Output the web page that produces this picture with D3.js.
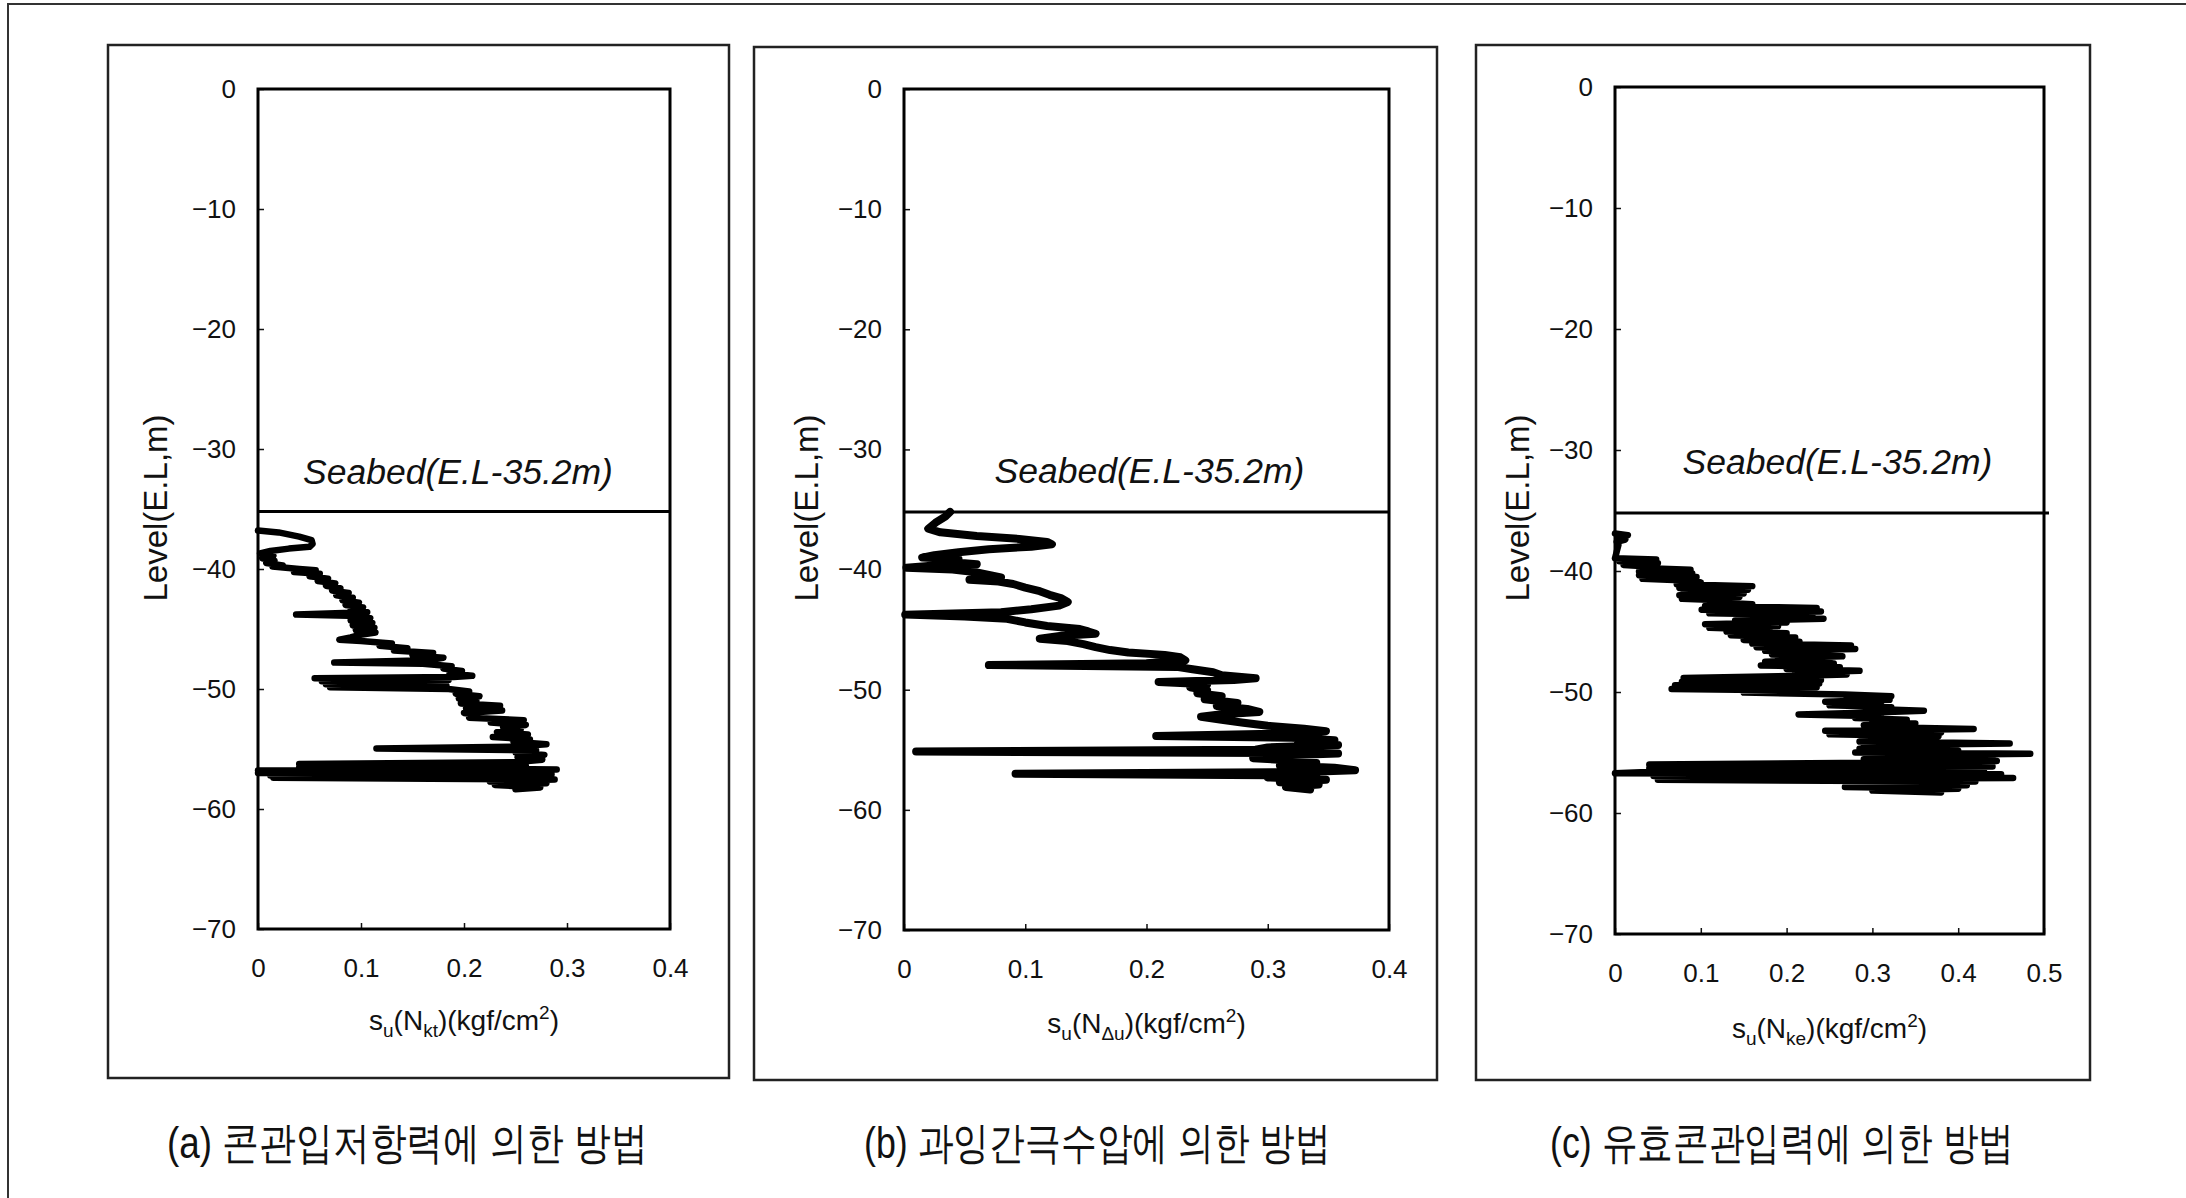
<!DOCTYPE html>
<meta charset="utf-8">
<script src="https://d3js.org/d3.v7.min.js"></script>
<style>
  body { margin: 0; background: #fff; }
  svg text { font-family: "Liberation Sans", Arial, sans-serif; fill: #111; }
</style>
<div id="chart"></div>

<script>
// axis values
const levelTicks = [0, -10, -20, -30, -40, -50, -60, -70];
const suTicksAB = [0, 0.1, 0.2, 0.3, 0.4];
const suTicksC = [0, 0.1, 0.2, 0.3, 0.4, 0.5];
const seabedLevel = -35.2;
const seabedText = "Seabed(E.L-35.2m)";
const levelText = "Level(E.L,m)";
const xSubs = ["kt", "\u0394u", "ke"];
const captions = ["(a) 콘관입저항력에 의한 방법", "(b) 과잉간극수압에 의한 방법", "(c) 유효콘관입력에 의한 방법"];

// profiles: [level (m), su (kgf/cm2)]
const profileA = [
  [-36.8, 0.000], [-36.95, 0.020], [-37.3, 0.040], [-37.6, 0.052], [-37.9, 0.053], [-38.15, 0.050],
  [-38.3, 0.030], [-38.5, 0.012], [-38.7, 0.002], [-38.9, 0.015], [-39.1, 0.004], [-39.3, 0.016],
  [-39.5, 0.008], [-39.7, 0.024], [-39.8, 0.014], [-40.0, 0.040], [-40.1, 0.056], [-40.25, 0.035],
  [-40.4, 0.060], [-40.6, 0.050], [-40.8, 0.068], [-41.0, 0.058], [-41.2, 0.075], [-41.4, 0.066],
  [-41.6, 0.080], [-41.8, 0.072], [-42.0, 0.088], [-42.2, 0.076], [-42.4, 0.092], [-42.6, 0.082],
  [-42.8, 0.098], [-43.0, 0.085], [-43.2, 0.102], [-43.4, 0.090], [-43.6, 0.106], [-43.8, 0.037],
  [-43.9, 0.088], [-44.1, 0.109], [-44.3, 0.090], [-44.5, 0.111], [-44.7, 0.092], [-44.9, 0.113],
  [-45.1, 0.095], [-45.3, 0.114], [-45.5, 0.098], [-45.7, 0.090], [-45.9, 0.079], [-46.0, 0.100],
  [-46.2, 0.130], [-46.4, 0.118], [-46.6, 0.145], [-46.8, 0.132], [-47.0, 0.170], [-47.2, 0.150],
  [-47.4, 0.180], [-47.6, 0.165], [-47.8, 0.074], [-47.9, 0.160], [-48.1, 0.188], [-48.3, 0.180],
  [-48.5, 0.198], [-48.7, 0.186], [-48.9, 0.208], [-49.0, 0.190], [-49.1, 0.055], [-49.25, 0.185],
  [-49.35, 0.062], [-49.5, 0.180], [-49.6, 0.066], [-49.75, 0.183], [-49.85, 0.070], [-50.0, 0.185],
  [-50.2, 0.205], [-50.4, 0.192], [-50.6, 0.215], [-50.8, 0.195], [-51.0, 0.212], [-51.2, 0.197],
  [-51.4, 0.235], [-51.6, 0.202], [-51.8, 0.237], [-52.0, 0.200], [-52.2, 0.215], [-52.4, 0.205],
  [-52.6, 0.258], [-52.8, 0.226], [-53.0, 0.260], [-53.2, 0.238], [-53.4, 0.255], [-53.6, 0.232],
  [-53.8, 0.262], [-54.0, 0.228], [-54.2, 0.264], [-54.4, 0.248], [-54.6, 0.280], [-54.8, 0.250],
  [-54.95, 0.115], [-55.1, 0.270], [-55.3, 0.250], [-55.5, 0.278], [-55.7, 0.252], [-55.9, 0.276],
  [-56.1, 0.248], [-56.25, 0.040], [-56.4, 0.260], [-56.55, 0.040], [-56.7, 0.290], [-56.8, 0.000],
  [-56.9, 0.270], [-57.0, 0.000], [-57.1, 0.285], [-57.2, 0.012], [-57.3, 0.260], [-57.4, 0.015],
  [-57.55, 0.288], [-57.7, 0.225], [-57.85, 0.280], [-58.0, 0.230], [-58.2, 0.274], [-58.35, 0.250]
];

const profileB = [
  [-35.2, 0.038], [-35.6, 0.034], [-36.1, 0.026], [-36.6, 0.020], [-36.9, 0.030], [-37.2, 0.060],
  [-37.45, 0.095], [-37.7, 0.118], [-37.9, 0.122], [-38.1, 0.105], [-38.3, 0.070], [-38.55, 0.045],
  [-38.8, 0.025], [-39.0, 0.015], [-39.15, 0.045], [-39.35, 0.035], [-39.55, 0.060], [-39.7, 0.020],
  [-39.85, 0.002], [-40.0, 0.040], [-40.2, 0.058], [-40.45, 0.070], [-40.65, 0.080], [-40.85, 0.054],
  [-41.0, 0.078], [-41.2, 0.090], [-41.5, 0.100], [-41.8, 0.112], [-42.1, 0.120], [-42.4, 0.130],
  [-42.7, 0.135], [-43.0, 0.128], [-43.3, 0.105], [-43.55, 0.080], [-43.75, 0.001], [-43.9, 0.050],
  [-44.1, 0.085], [-44.4, 0.100], [-44.7, 0.118], [-44.95, 0.145], [-45.15, 0.152], [-45.35, 0.158],
  [-45.5, 0.130], [-45.75, 0.112], [-45.95, 0.135], [-46.2, 0.148], [-46.45, 0.158], [-46.7, 0.170],
  [-46.9, 0.185], [-47.1, 0.215], [-47.3, 0.228], [-47.55, 0.232], [-47.8, 0.200], [-47.95, 0.070],
  [-48.1, 0.225], [-48.3, 0.238], [-48.55, 0.255], [-48.8, 0.262], [-49.05, 0.290], [-49.2, 0.272],
  [-49.35, 0.210], [-49.55, 0.250], [-49.8, 0.236], [-50.05, 0.250], [-50.3, 0.242], [-50.55, 0.262],
  [-50.8, 0.248], [-51.1, 0.275], [-51.35, 0.258], [-51.6, 0.283], [-51.85, 0.293], [-52.05, 0.262],
  [-52.25, 0.245], [-52.5, 0.262], [-52.75, 0.280], [-53.0, 0.300], [-53.25, 0.330], [-53.45, 0.348],
  [-53.65, 0.310], [-53.85, 0.208], [-54.0, 0.320], [-54.2, 0.355], [-54.4, 0.325], [-54.6, 0.358],
  [-54.8, 0.300], [-55.0, 0.290], [-55.15, 0.010], [-55.3, 0.358], [-55.5, 0.300], [-55.7, 0.288],
  [-55.9, 0.320], [-56.1, 0.340], [-56.3, 0.310], [-56.5, 0.355], [-56.7, 0.372], [-56.85, 0.330],
  [-57.0, 0.092], [-57.15, 0.340], [-57.3, 0.300], [-57.5, 0.348], [-57.7, 0.310], [-57.9, 0.342],
  [-58.1, 0.315], [-58.3, 0.335]
];

const profileC = [
  [-36.9, 0.000], [-37.05, 0.015], [-37.2, 0.004], [-37.4, 0.012], [-37.6, 0.002], [-37.85, 0.004],
  [-38.95, 0.000], [-39.05, 0.048], [-39.2, 0.005], [-39.35, 0.050], [-39.5, 0.010], [-39.65, 0.045],
  [-39.75, 0.030], [-39.9, 0.088], [-40.05, 0.028], [-40.2, 0.090], [-40.35, 0.028], [-40.5, 0.095],
  [-40.65, 0.032], [-40.8, 0.090], [-40.95, 0.100], [-41.1, 0.072], [-41.25, 0.160], [-41.4, 0.075],
  [-41.55, 0.155], [-41.7, 0.080], [-41.85, 0.150], [-42.0, 0.075], [-42.15, 0.145], [-42.3, 0.078],
  [-42.45, 0.140], [-42.6, 0.120], [-42.75, 0.160], [-42.9, 0.105], [-43.05, 0.235], [-43.2, 0.101],
  [-43.35, 0.240], [-43.5, 0.110], [-43.65, 0.230], [-43.8, 0.150], [-43.95, 0.243], [-44.1, 0.140],
  [-44.25, 0.200], [-44.4, 0.105], [-44.55, 0.190], [-44.7, 0.110], [-44.85, 0.180], [-45.0, 0.130],
  [-45.15, 0.200], [-45.3, 0.135], [-45.5, 0.210], [-45.7, 0.150], [-45.85, 0.215], [-46.0, 0.160],
  [-46.15, 0.275], [-46.3, 0.165], [-46.45, 0.280], [-46.6, 0.175], [-46.75, 0.240], [-46.9, 0.183],
  [-47.05, 0.265], [-47.2, 0.190], [-47.35, 0.250], [-47.5, 0.175], [-47.65, 0.255], [-47.8, 0.170],
  [-47.95, 0.262], [-48.1, 0.200], [-48.25, 0.285], [-48.4, 0.210], [-48.55, 0.270], [-48.7, 0.190],
  [-48.85, 0.080], [-49.0, 0.240], [-49.15, 0.078], [-49.3, 0.238], [-49.45, 0.070], [-49.6, 0.235],
  [-49.75, 0.066], [-49.9, 0.230], [-50.05, 0.150], [-50.2, 0.268], [-50.35, 0.322], [-50.5, 0.270],
  [-50.65, 0.320], [-50.8, 0.245], [-50.95, 0.310], [-51.1, 0.250], [-51.25, 0.322], [-51.4, 0.300],
  [-51.55, 0.360], [-51.7, 0.300], [-51.85, 0.214], [-52.0, 0.310], [-52.15, 0.280], [-52.3, 0.340],
  [-52.45, 0.300], [-52.6, 0.350], [-52.75, 0.290], [-52.9, 0.300], [-53.05, 0.418], [-53.2, 0.245],
  [-53.35, 0.380], [-53.5, 0.250], [-53.65, 0.377], [-53.8, 0.300], [-53.95, 0.360], [-54.1, 0.285],
  [-54.25, 0.460], [-54.4, 0.290], [-54.55, 0.377], [-54.7, 0.285], [-54.85, 0.400], [-55.0, 0.280],
  [-55.1, 0.484], [-55.25, 0.300], [-55.4, 0.440], [-55.55, 0.290], [-55.7, 0.445], [-55.85, 0.300],
  [-56.0, 0.040], [-56.15, 0.440], [-56.3, 0.040], [-56.45, 0.430], [-56.6, 0.045], [-56.72, 0.000],
  [-56.8, 0.450], [-56.95, 0.045], [-57.1, 0.464], [-57.25, 0.050], [-57.4, 0.420], [-57.55, 0.270],
  [-57.7, 0.410], [-57.85, 0.268], [-58.0, 0.400], [-58.15, 0.300], [-58.3, 0.380]
];

const W = 2186, H = 1198;

const svg = d3.select("#chart")
  .append("svg")
  .attr("width", W)
  .attr("height", H);

// outer frame (right and bottom edges fall outside the picture)
svg.append("rect")
  .attr("x", 8).attr("y", 4)
  .attr("width", W + 20).attr("height", H + 20)
  .attr("fill", "none").attr("stroke", "#333").attr("stroke-width", 2);

// panel layout
const panels = [
  { data: profileA, ticks: suTicksAB, sub: xSubs[0], caption: captions[0], traceW: 6.5,
    frame: [108, 45, 729, 1078], plot: [258, 89, 670, 929],
    seabedDx: -6, seabedDy: -27, seabedExtend: 0, ylabelX: 155, xlabelY: 1030,
    capX: 167, capW: 481 },
  { data: profileB, ticks: suTicksAB, sub: xSubs[1], caption: captions[1], traceW: 8,
    frame: [754, 47, 1437, 1080], plot: [904, 89, 1389, 930],
    seabedDx: 3, seabedDy: -29, seabedExtend: 0, ylabelX: 806, xlabelY: 1033,
    capX: 864, capW: 467 },
  { data: profileC, ticks: suTicksC, sub: xSubs[2], caption: captions[2], traceW: 6.5,
    frame: [1476, 45, 2090, 1080], plot: [1615, 87, 2044, 934],
    seabedDx: 8, seabedDy: -39, seabedExtend: 5, ylabelX: 1517, xlabelY: 1038,
    capX: 1550, capW: 464 }
];

panels.forEach(function(p) {
  const [fx0, fy0, fx1, fy1] = p.frame;
  const [px0, py0, px1, py1] = p.plot;

  svg.append("rect")
    .attr("x", fx0).attr("y", fy0)
    .attr("width", fx1 - fx0).attr("height", fy1 - fy0)
    .attr("fill", "none").attr("stroke", "#222").attr("stroke-width", 2.5);

  const x = d3.scaleLinear()
    .domain([0, d3.max(p.ticks)])
    .range([px0, px1]);

  const y = d3.scaleLinear()
    .domain([0, -70])
    .range([py0, py1]);

  // axes, ticks pointing inward
  svg.append("g")
    .attr("transform", `translate(${px0},0)`)
    .call(d3.axisLeft(y).tickValues(levelTicks).tickSizeInner(-6).tickSizeOuter(0).tickPadding(22))
    .call(g => g.select(".domain").remove())
    .call(g => g.selectAll("text").attr("font-size", 26).attr("font-family", "Liberation Sans, Arial, sans-serif").attr("fill", "#111"))
    .call(g => g.selectAll("line").attr("stroke", "#111").attr("stroke-width", 1.5));

  svg.append("g")
    .attr("transform", `translate(0,${py1})`)
    .call(d3.axisBottom(x).tickValues(p.ticks).tickFormat(d3.format("")).tickSizeInner(-6).tickSizeOuter(0).tickPadding(30))
    .call(g => g.select(".domain").remove())
    .call(g => g.selectAll("text").attr("font-size", 26).attr("font-family", "Liberation Sans, Arial, sans-serif").attr("fill", "#111"))
    .call(g => g.selectAll("line").attr("stroke", "#111").attr("stroke-width", 1.5));

  // plot box
  svg.append("rect")
    .attr("x", px0).attr("y", py0)
    .attr("width", px1 - px0).attr("height", py1 - py0)
    .attr("fill", "none").attr("stroke", "#000").attr("stroke-width", 3);

  // seabed line and label
  svg.append("line")
    .attr("x1", px0).attr("x2", px1 + p.seabedExtend)
    .attr("y1", y(seabedLevel)).attr("y2", y(seabedLevel))
    .attr("stroke", "#000").attr("stroke-width", 3);

  svg.append("text")
    .attr("x", (px0 + px1) / 2 + p.seabedDx)
    .attr("y", y(seabedLevel) + p.seabedDy)
    .attr("text-anchor", "middle")
    .attr("font-size", 35.5)
    .attr("font-style", "italic")
    .text(seabedText);

  // profile
  const line = d3.line()
    .x(d => x(d[1]))
    .y(d => y(d[0]));

  svg.append("path")
    .datum(p.data)
    .attr("d", line)
    .attr("fill", "none")
    .attr("stroke", "#000")
    .attr("stroke-width", p.traceW)
    .attr("stroke-linejoin", "round")
    .attr("stroke-linecap", "round");

  // y label
  svg.append("text")
    .attr("transform", `translate(${p.ylabelX},508) rotate(-90)`)
    .attr("text-anchor", "middle")
    .attr("dy", "0.35em")
    .attr("font-size", 33)
    .text(levelText);

  // x label with sub/superscripts
  const xl = svg.append("text")
    .attr("x", (px0 + px1) / 2)
    .attr("y", p.xlabelY)
    .attr("text-anchor", "middle")
    .attr("font-size", 28);
  xl.append("tspan").text("s");
  xl.append("tspan").attr("font-size", 19).attr("dy", 7).text("u");
  xl.append("tspan").attr("dy", -7).text("(N");
  xl.append("tspan").attr("font-size", 19).attr("dy", 7).text(p.sub);
  xl.append("tspan").attr("dy", -7).text(")(kgf/cm");
  xl.append("tspan").attr("font-size", 19).attr("dy", -11).text("2");
  xl.append("tspan").attr("dy", 11).text(")");

  // caption
  svg.append("text")
    .attr("x", p.capX)
    .attr("y", 1158)
    .attr("font-family", "Noto Sans CJK KR, sans-serif")
    .attr("font-size", 44)
    .attr("textLength", p.capW)
    .attr("lengthAdjust", "spacingAndGlyphs")
    .text(p.caption);
});
</script>
